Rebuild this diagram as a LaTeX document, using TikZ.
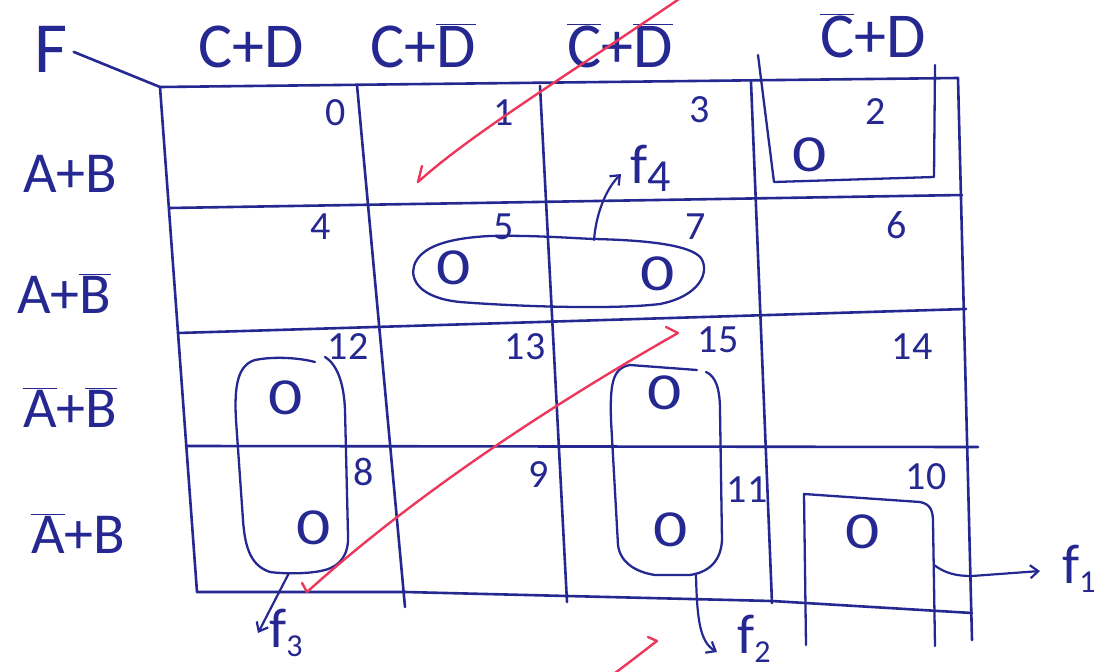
\documentclass[tikz,border=0pt]{standalone}
\usepackage{fontspec}
\setmainfont{Carlito}
\usetikzlibrary{arrows.meta}
\definecolor{ink}{RGB}{38,40,145}
\definecolor{redpen}{RGB}{236,56,90}
\newcommand\ovb[1]{\ensuremath{\overline{\mbox{#1}}}}
\newcommand\sbs[1]{\raisebox{-9pt}{\fontsize{32}{34}\selectfont #1}}
\begin{document}
\begin{tikzpicture}[x=1pt,y=-1pt,
  grid/.style={draw=ink,line width=2.6pt,line cap=round,line join=round},
  ring/.style={draw=ink,line width=2.3pt,line cap=round,line join=round},
  pen/.style={draw=ink,line width=2.2pt,line cap=round,-{Straight Barb[length=8pt,width=13pt]}},
  redink/.style={draw=redpen,line width=2.4pt,line cap=round,line join=round},
  hd/.style={text=ink,inner sep=0pt,anchor=base,font=\fontsize{64}{70}\selectfont},
  rw/.style={text=ink,inner sep=0pt,anchor=base,font=\fontsize{58}{64}\selectfont},
  idx/.style={text=ink,inner sep=0pt,font=\fontsize{40}{44}\selectfont},
  zero/.style={text=ink,inner sep=0pt,font=\fontsize{52}{56}\selectfont},
  fl/.style={text=ink,inner sep=0pt,anchor=base west,font=\fontsize{56}{60}\selectfont},
]
\fill[white] (0,0) rectangle (1109,672);
\useasboundingbox (0,0) rectangle (1109,672);

% labels
\node[text=ink,inner sep=0pt,anchor=base,font=\fontsize{72}{76}\selectfont] (F) at (51,72) {F};
\node[hd] (hA) at (251,67) {C+D};
\node[hd] (hB) at (423,67) {C+\ovb{D}};
\node[hd] (hC) at (620,67) {\ovb{C}+\ovb{D}};
\node[hd] (hD) at (873,57) {\ovb{C}+D};
\node[rw] (rA) at (70,192) {A+B};
\node[rw] (rB) at (64,313) {A+\ovb{B}};
\node[rw] (rC) at (70,427) {\ovb{A}+\ovb{B}};
\node[rw] (rD) at (78,553) {\ovb{A}+B};

% grid
\coordinate (TL) at (160,87);
\coordinate (TR) at (958,78);
\coordinate (BL) at (197,592);
\coordinate (BR) at (972,613);
\draw[grid] ([xshift=6pt,yshift=-3pt]F.east) -- (TL);
\draw[grid] (TL) -- (TR);
\draw[grid] (TL) -- (BL);
\draw[grid] (357,85) -- (405,607);
\draw[grid] (540,86) -- (567,602);
\draw[grid] (751,82) -- (772,603);
\draw[grid] (TR) -- (972,640);
\draw[grid] (169,208) -- (962,195);
\draw[grid] (178,333) -- (966,309);
\draw[grid] (186,446) -- (978,447);
\draw[grid] (BL) -- (405,592) -- (567,596) -- (772,601) -- (BR);

% cell indices
\node[idx] (n0) at (336,113) {0};
\node[idx] (n1) at (504,113) {1};
\node[idx] (n3) at (700,110) {3};
\node[idx] (n2) at (876,112) {2};
\node[idx] (n4) at (321,227) {4};
\node[idx] (n5) at (504,227) {5};
\node[idx] (n7) at (696,227) {7};
\node[idx] (n6) at (897,225) {6};
\node[idx] (n12) at (348,347) {12};
\node[idx] (n13) at (525,347) {13};
\node[idx] (n15) at (718,340) {15};
\node[idx] (n14) at (912,347) {14};
\node[idx] (n8) at (364,472) {8};
\node[idx] (n9) at (539,475) {9};
\node[idx] (n11) at (747,490) {11};
\node[idx] (n10) at (926,477) {10};

% zeros
\node[zero] (z2) at (810,155) {\scalebox{1.3}[1]{0}};
\node[zero] (z5) at (454,268) {\scalebox{1.3}[1]{0}};
\node[zero] (z7) at (658,274) {\scalebox{1.3}[1]{0}};
\node[zero] (z12) at (286,398) {\scalebox{1.3}[1]{0}};
\node[zero] (z15) at (665,393) {\scalebox{1.3}[1]{0}};
\node[zero] (z8) at (314,528) {\scalebox{1.3}[1]{0}};
\node[zero] (z11) at (671,530) {\scalebox{1.3}[1]{0}};
\node[zero] (z10) at (863,532) {\scalebox{1.3}[1]{0}};

% groups
\draw[ring] (758,55) -- (774,182) -- (934,177) -- (935,65);
\draw[ring] (806,645) -- (804,494) -- (920,502) .. controls (930,504) and (933,510) .. (933,522) -- (935,646);
\draw[ring] (594,239) .. controls (640,240) and (690,244) .. (701,258) .. controls (710,272) and (700,296) .. (660,304) .. controls (610,310) and (510,306) .. (460,302) .. controls (420,298) and (410,280) .. (414,266) .. controls (420,246) and (450,238) .. (490,236) .. controls (530,235) and (570,238) .. (594,239) -- cycle;
\draw[ring] (325,357) .. controls (338,365) and (344,385) .. (345,410) -- (348,535) .. controls (349,555) and (340,566) .. (325,570) .. controls (310,574) and (285,574) .. (270,572) .. controls (252,566) and (245,550) .. (243,520) -- (236,420) .. controls (234,385) and (238,365) .. (255,360) .. controls (275,356) and (300,358) .. (315,362);
\draw[ring] (706,372) .. controls (716,376) and (720,390) .. (720,410) -- (722,540) .. controls (721,560) and (710,572) .. (690,575) -- (655,575) .. controls (635,572) and (620,562) .. (618,545) -- (611,420) .. controls (610,385) and (612,368) .. (630,365) -- (697,370);

% function labels and arrows
\node[fl] (f4) at (630,183) {f\raisebox{-8pt}{\fontsize{46}{48}\selectfont 4}};
\node[fl] (f3) at (269,647) {f\sbs{3}};
\node[fl] (f2) at (737,653) {f\sbs{2}};
\node[fl] (f1) at (1062,583) {f\sbs{1}};
\coordinate (g4) at (594,240);
\coordinate (g3) at (289,573);
\coordinate (g2) at (696,575);
\coordinate (g1) at (934,565);
\coordinate (t4) at (621,174);
\coordinate (t3) at (258,633);
\coordinate (t2) at (717,652);
\coordinate (t1) at (1040,571);
\draw[pen] (g4) .. controls (596,215) and (605,190) .. (t4);
\draw[pen] (g3) -- (t3);
\draw[pen] (g2) .. controls (697,620) and (700,642) .. (t2);
\draw[pen] (g1) .. controls (945,573) and (955,576) .. (972,576) -- (t1);

% red pen strokes
\draw[redink] (682,-3) .. controls (560,80) and (470,135) .. (418,182) -- (422,166);
\draw[redink] (302,583) -- (307,592) .. controls (420,490) and (560,400) .. (678,333) -- (666,327);
\draw[redink] (611,676) .. controls (630,662) and (645,650) .. (657,641) -- (648,637);
\end{tikzpicture}
\end{document}
